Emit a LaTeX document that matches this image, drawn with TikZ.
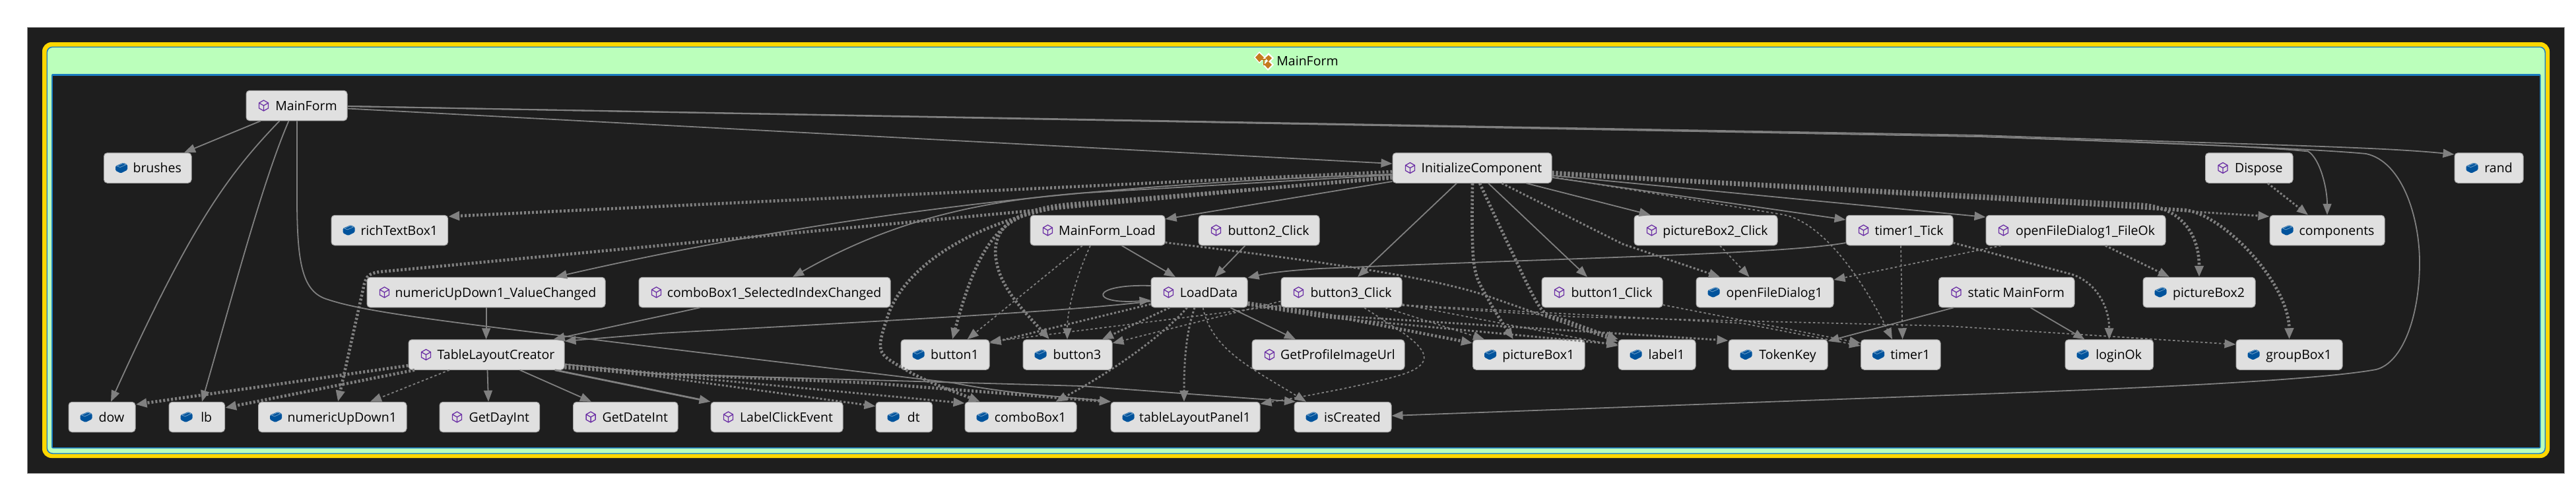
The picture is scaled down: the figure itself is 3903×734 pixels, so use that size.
\documentclass[tikz,border=0pt]{standalone}
\usepackage{fontspec}
\setmainfont{Open Sans}
\usetikzlibrary{arrows.meta}
\definecolor{eg}{HTML}{808080}
\definecolor{darkbg}{HTML}{1E1E1E}
\definecolor{boxfill}{HTML}{E0E0E0}
\definecolor{greenhead}{HTML}{BBFFBB}
\definecolor{frameblue}{HTML}{1B7CC0}
\definecolor{gold}{HTML}{FFD700}
\definecolor{purpleicon}{HTML}{6B2FA5}
\definecolor{blueicon}{HTML}{00539C}
\definecolor{orangeicon}{HTML}{C47A1E}
\tikzset{
 nbox/.style={draw=boxfill!75!black,line width=1pt,fill=boxfill,rounded corners=5pt,inner sep=0pt,minimum height=45.5pt,text=black,font=\fontsize{19.5}{23}\selectfont,text height=18pt,text depth=4pt},
 edgebase/.style={draw=eg,-{Stealth[inset=0pt,length=17pt,width=13pt,fill=eg]}},
 callline/.style={edgebase,line width=1.8pt},
 callheavy/.style={edgebase,line width=2.8pt},
 refthin/.style={edgebase,line width=1.8pt,dash pattern=on 3.5pt off 3.5pt},
 refmed/.style={edgebase,line width=3pt,dash pattern=on 3pt off 3pt},
 refthick/.style={edgebase,line width=4.6pt,dash pattern=on 3pt off 3pt},
 methodicon/.pic={
  \draw[purpleicon,line width=1.3pt,line join=round] (0,-8)--(7,-4)--(7,4)--(0,8)--(-7,4)--(-7,-4)--cycle (-7,-4)--(0,0)--(7,-4) (0,0)--(0,8);
 },
 fieldicon/.pic={
  \fill[blueicon,rounded corners=1.5pt] (-9,-3)--(3,-8)--(9,-5)--(9,3)--(-1,8)--(-9,4)--cycle;
  \draw[blueicon!55!white,line width=.8pt] (-7,-3)--(3,-7)--(7,-5)--(-2,-1)--cycle;
 },
}
\newcommand\methodbox[5]{%
 \node[nbox,minimum width=#3pt-#2pt] (#1) at ({(#2+#3)/2},#4) {\hspace*{29pt}#5};
 \pic at ([xshift=27pt]#1.west) {methodicon};
}
\newcommand\fieldbox[5]{%
 \node[nbox,minimum width=#3pt-#2pt] (#1) at ({(#2+#3)/2},#4) {\hspace*{29pt}#5};
 \pic at ([xshift=27pt]#1.west) {fieldicon};
}
\begin{document}
\begin{tikzpicture}[x=1pt,y=-1pt]
\useasboundingbox (0,0) rectangle (3903,734);
\fill[white] (0,0) rectangle (3903,734);
\draw[fill=darkbg,draw=eg!80!white,line width=1pt] (41.5,41.5) rectangle (3885,717);
\fill[gold,rounded corners=14pt] (64,64) rectangle (3863,694);
\fill[frameblue,rounded corners=9pt] (70.5,70.5) rectangle (3857,688);
\fill[greenhead,rounded corners=8pt] (72,72) rectangle (3855.5,686.5);
\fill[frameblue,rounded corners=2pt] (78,112) rectangle (3849.5,679.5);
\fill[darkbg] (80,115) rectangle (3847.5,677.5);
% title
\node[text=black,font=\fontsize{19.5}{23}\selectfont,inner sep=0pt] (title) at (1981,92) {MainForm};
\fill[white] (1900,87)--(1908,78)--(1917,87)--(1908,96)--cycle (1913,98)--(1921,89)--(1930,98)--(1921,107)--cycle (1914,88)--(1922,80)--(1930,88)--(1922,96)--cycle;
\fill[orangeicon] (1902,87)--(1908,80.5)--(1915,87)--(1908,94)--cycle (1915.5,98)--(1921,92.5)--(1927,98)--(1921,104)--cycle (1917,88)--(1922,83.5)--(1927,88)--(1922,93)--cycle;
\draw[orangeicon,line width=1.2pt] (1910,90)--(1918,90) (1915,90)--(1915,98)--(1918,98);
% nodes
\methodbox{MF}{373}{526}{160}{MainForm}
\fieldbox{brushes}{157.5}{290}{254.5}{brushes}
\fieldbox{richTextBox}{502}{678.6}{349}{richTextBox1}
\methodbox{nudChanged}{556}{917}{443}{numericUpDown1\_ValueChanged}
\methodbox{TLC}{619}{855}{537.5}{TableLayoutCreator}
\fieldbox{dow}{104}{205}{632}{dow}
\fieldbox{lb}{256}{340.5}{632}{lb}
\fieldbox{nud}{391.6}{616}{632}{numericUpDown1}
\methodbox{GetDayInt}{666}{817.6}{632}{GetDayInt}
\methodbox{GetDateInt}{868.6}{1027}{632}{GetDateInt}
\methodbox{cbChanged}{968}{1349}{443}{comboBox1\_SelectedIndexChanged}
\methodbox{LabelClick}{1077}{1277}{632}{LabelClickEvent}
\fieldbox{dt}{1327}{1412.6}{632}{dt}
\fieldbox{combo}{1462}{1631}{632}{comboBox1}
\fieldbox{tlp}{1683}{1909}{632}{tableLayoutPanel1}
\fieldbox{isCreated}{1961}{2108}{632}{isCreated}
\fieldbox{buttonA}{1365}{1499}{537.5}{button1}
\fieldbox{buttonC}{1550}{1685}{537.5}{button3}
\methodbox{GetProfile}{1897}{2128}{537.5}{GetProfileImageUrl}
\methodbox{MFLoad}{1561}{1765}{349}{MainForm\_Load}
\methodbox{btnBClick}{1816}{1999}{349}{button2\_Click}
\methodbox{LoadData}{1744}{1890}{443}{LoadData}
\methodbox{btnCClick}{1941}{2124}{443}{button3\_Click}
\methodbox{IC}{2110}{2351}{254.5}{InitializeComponent}
\methodbox{pbClick}{2476}{2693}{349}{pictureBox2\_Click}
\methodbox{timerTick}{2797}{2959}{349}{timer1\_Tick}
\methodbox{btnAClick}{2336}{2519}{443}{button1\_Click}
\fieldbox{ofd}{2570}{2778}{443}{openFileDialog1}
\methodbox{staticMF}{2937.5}{3143}{443}{static MainForm}
\fieldbox{pbA}{2231.5}{2401}{537.5}{pictureBox1}
\fieldbox{labelA}{2452}{2569}{537.5}{label1}
\fieldbox{TokenKey}{2619}{2769}{537.5}{TokenKey}
\fieldbox{timerA}{2819.5}{2940}{537.5}{timer1}
\methodbox{ofdOk}{3009}{3281}{349}{openFileDialog1\_FileOk}
\methodbox{Dispose}{3341.5}{3474}{254.5}{Dispose}
\fieldbox{components}{3439}{3613}{349}{components}
\fieldbox{rand}{3719}{3823}{254.5}{rand}
\fieldbox{pbB}{3247}{3417}{443}{pictureBox2}
\fieldbox{loginOk}{3129}{3262.5}{537.5}{loginOk}
\fieldbox{groupBox}{3388}{3549}{537.5}{groupBox1}
% MainForm edges
\draw[callline] (MF.south -| 395,0) -- (brushes.north -| 279,0);
\draw[callline] (MF.south -| 423.5,0) .. controls (345,265) and (290,340) .. (dow.north -| 168,0);
\draw[callline] (MF.south -| 437.5,0) .. controls (400,270) and (360,420) .. (lb.north -| 306,0);
\draw[callline] (MF.south -| 450,0) -- (450,300) .. controls (450,400) and (458,443) .. (497,454) .. controls (560,475) and (700,490) .. (1000,527) -- (1446,580.5) .. controls (1530,597) and (1600,600) .. (tlp.north -| 1683,0);
\draw[callline] (MF.east |- 0,164.5) -- (IC.west |- 0,248);
\draw[callline] (MF.east |- 0,161) -- (3000,205) .. controls (3400,219) and (3600,222) .. (rand.west |- 0,234);
\draw[callline] (MF.east |- 0,161) -- (3000,207) .. controls (3300,217) and (3420,222) .. (3497,229.4) .. controls (3515,240) and (3526,285) .. (components.north -| 3526,0);
\draw[callline] (MF.east |- 0,161) -- (3000,207) .. controls (3300,218) and (3500,225) .. (3585,233) .. controls (3640,245) and (3666,330) .. (3666,398) .. controls (3666,480) and (3640,550) .. (3600,560) .. controls (3500,578) and (3200,590) .. (2950,599) -- (isCreated.east |- 0,630);
% InitializeComponent edges
\draw[refthick] (IC.west |- 0,260) -- (richTextBox.east |- 0,328);
\draw[refthick] (IC.west |- 0,268) -- (575,412) .. controls (558,414) and (555,420) .. (552,430) -- (nud.north -| 512,0);
\draw[callline] (IC.west |- 0,264) .. controls (1700,278) and (1300,315) .. (nudChanged.north -| 842,0);
\draw[callline] (IC.west |- 0,265) -- (1638,292.6) .. controls (1480,305) and (1350,335) .. (cbChanged.north -| 1201,0);
\draw[callline] (IC.west |- 0,275) -- (MFLoad.east |- 0,332);
\draw[refthick] (IC.west |- 0,268) -- (1620,312) .. controls (1530,322) and (1490,340) .. (buttonA.north -| 1443,0);
\draw[refthick] (IC.west |- 0,270) -- (1620,309) .. controls (1530,318) and (1500,350) .. (1510,398) .. controls (1518,440) and (1555,475) .. (buttonC.north -| 1590,0);
\draw[refthick] (IC.west |- 0,269) -- (1620,311) .. controls (1480,335) and (1370,400) .. (1344,482) .. controls (1325,540) and (1330,535) .. (1382,566) .. controls (1420,585) and (1450,595) .. (combo.north -| 1485,0);
\draw[callline] (IC.south -| 2207,0) -- (btnCClick.north -| 2057,0);
\draw[refthick] plot[smooth,tension=.6] coordinates {(IC.south -| 2231,0) (2233,398) (2255,454) (pbA.north -| 2293,0)};
\draw[refthick] plot[smooth,tension=.5] coordinates {(IC.south -| 2242,0) (2287,374) (2335,468) (2376,487) (labelA.north -| 2452,0)};
\draw[callline] (IC.south -| 2255,0) -- (btnAClick.north -| 2405,0);
\draw[refmed] (IC.south -| 2275.5,0) -- (2459,370) -- (ofd.north -| 2606,0);
\draw[callline] (IC.south -| 2312.5,0) -- (pbClick.north -| 2500.6,0);
\draw[callline] (IC.east |- 0,269) -- (timerTick.west |- 0,333);
\draw[callline] (IC.east |- 0,266) -- (ofdOk.west |- 0,329);
\draw[refthin] (IC.east |- 0,268) -- (2700,325) .. controls (2760,335) and (2820,420) .. (timerA.north -| 2867,0);
\draw[refmed] (IC.east |- 0,260) -- (components.west |- 0,328);
\draw[refthick] (IC.east |- 0,262) -- (3250,310) .. controls (3310,318) and (3332,360) .. (pbB.north -| 3332,0);
\draw[refthick] (IC.east |- 0,264) -- (3310,318) .. controls (3370,325) and (3468,430) .. (groupBox.north -| 3468.5,0);
% upper right
\draw[refmed] (Dispose.south -| 3436,0) -- (components.north -| 3497,0);
\draw[refmed] (ofdOk.south -| 3190,0) -- (pbB.north -| 3287,0);
\draw[refthin] (ofdOk.south -| 3032,0) -- (ofd.east |- 0,424);
\draw[refthin] (pbClick.south -| 2606,0) -- (ofd.north -| 2650.5,0);
\draw[callline] (timerTick.west |- 0,368) .. controls (2700,385) and (2400,390) .. (2000,407) .. controls (1950,410) and (1920,414) .. (LoadData.east |- 0,421);
\draw[refthin] (timerTick.south -| 2880,0) -- (timerA.north -| 2882.6,0);
\draw[refmed] (timerTick.east |- 0,368) -- (3140,416) .. controls (3180,430) and (3196,470) .. (loginOk.north -| 3195.6,0);
\draw[callline] (staticMF.south -| 2960,0) -- (TokenKey.east |- 0,517);
\draw[callline] (staticMF.south -| 3076.5,0) -- (loginOk.north -| 3158.5,0);
% MainForm_Load and button2_Click
\draw[refthin] (MFLoad.south -| 1640,0) -- (buttonA.north -| 1465.6,0);
\draw[refthin] (MFLoad.south -| 1652,0) .. controls (1630,420) and (1617,470) .. (buttonC.north -| 1617,0);
\draw[callline] (MFLoad.south -| 1699.6,0) -- (LoadData.north -| 1781,0);
\draw[refmed] (MFLoad.east |- 0,367.5) .. controls (1950,390) and (2150,415) .. (2249,447) -- (labelA.west |- 0,518);
\draw[callline] (btnBClick.south -| 1886.5,0) -- (LoadData.north -| 1840.6,0);
% LoadData
\draw[callline] (LoadData.west |- 0,433) .. controls (1650,430) and (1650,462) .. (LoadData.west |- 0,455);
\draw[callline] (LoadData.west |- 0,456.5) .. controls (1650,468) and (1500,478) .. (1000,505) -- (TLC.east |- 0,517);
\draw[callline] (cbChanged.south -| 1060.6,0) -- (TLC.north -| 838.6,0);
\draw[callline] (nudChanged.south -| 736.6,0) -- (TLC.north -| 736.6,0);
\draw[refmed] (LoadData.west |- 0,461) -- (buttonA.east |- 0,520);
\draw[refmed] (LoadData.south -| 1772,0) -- (buttonC.north -| 1670,0);
\draw[refmed] (LoadData.south -| 1798.5,0) .. controls (1770,500) and (1700,555) .. (combo.north -| 1599.5,0);
\draw[refmed] (LoadData.south -| 1810,0) .. controls (1795,510) and (1794,560) .. (tlp.north -| 1794,0);
\draw[refthin] (LoadData.south -| 1822.7,0) .. controls (1835,530) and (1900,560) .. (isCreated.north -| 1979,0);
\draw[callline] (LoadData.south -| 1864,0) -- (GetProfile.north -| 1963,0);
\draw[refthick] (LoadData.east |- 0,459) -- (2000,475) -- (pbA.west |- 0,520);
\draw[refmed] (LoadData.east |- 0,462) -- (2000,480) -- (labelA.west |- 0,522);
\draw[refmed] (LoadData.east |- 0,461) -- (2000,477) -- (TokenKey.west |- 0,516);
% button3_Click
\draw[refthin] (btnCClick.west |- 0,456.5) -- (buttonC.east |- 0,520);
\draw[refthin] (btnCClick.west |- 0,463) -- (buttonA.east |- 0,518);
\draw[refthin] (btnCClick.south -| 2067,0) -- (2127.5,505.6) .. controls (2160,530) and (2175,550) .. (2127.5,566.5) .. controls (2080,582) and (1980,600) .. (tlp.east |- 0,612);
\draw[refthin] (btnCClick.south -| 2099,0) -- (pbA.north -| 2249,0);
\draw[refthin] (btnCClick.east |- 0,461) -- (labelA.west |- 0,524);
\draw[refthin] (btnCClick.east |- 0,462) -- (2640,490) -- (timerA.west |- 0,524);
\draw[refthin] (btnAClick.east |- 0,462) -- (timerA.west |- 0,520);
\draw[refthin] (btnCClick.east |- 0,463) -- (2383,480) -- (2950,494) -- (groupBox.west |- 0,522);
% TableLayoutCreator
\draw[refthick] (TLC.west |- 0,554) -- (dow.east |- 0,613);
\draw[refthick] (TLC.south -| 628,0) -- (lb.east |- 0,618);
\draw[refthin] (TLC.south -| 681,0) -- (nud.north -| 561,0);
\draw[callline] (TLC.south -| 738.5,0) -- (GetDayInt.north -| 740,0);
\draw[callline] (TLC.south -| 787.6,0) -- (GetDateInt.north -| 896,0);
\draw[callheavy] (TLC.south -| 840.6,0) -- (LabelClick.north -| 1076.5,0);
\draw[refmed] (TLC.east |- 0,556) -- (1000,571) -- (dt.west |- 0,615.6);
\draw[refmed] (TLC.east |- 0,558) -- (1000,568) -- (combo.west |- 0,611);
\draw[refthick] (TLC.east |- 0,553) -- (1000,566.5) -- (1319,580.5) -- (tlp.north -| 1683,0);
\draw[callline] (TLC.east |- 0,552) -- (1000,567) -- (1638,585) -- (isCreated.north -| 1963,0);
\end{tikzpicture}
\end{document}
